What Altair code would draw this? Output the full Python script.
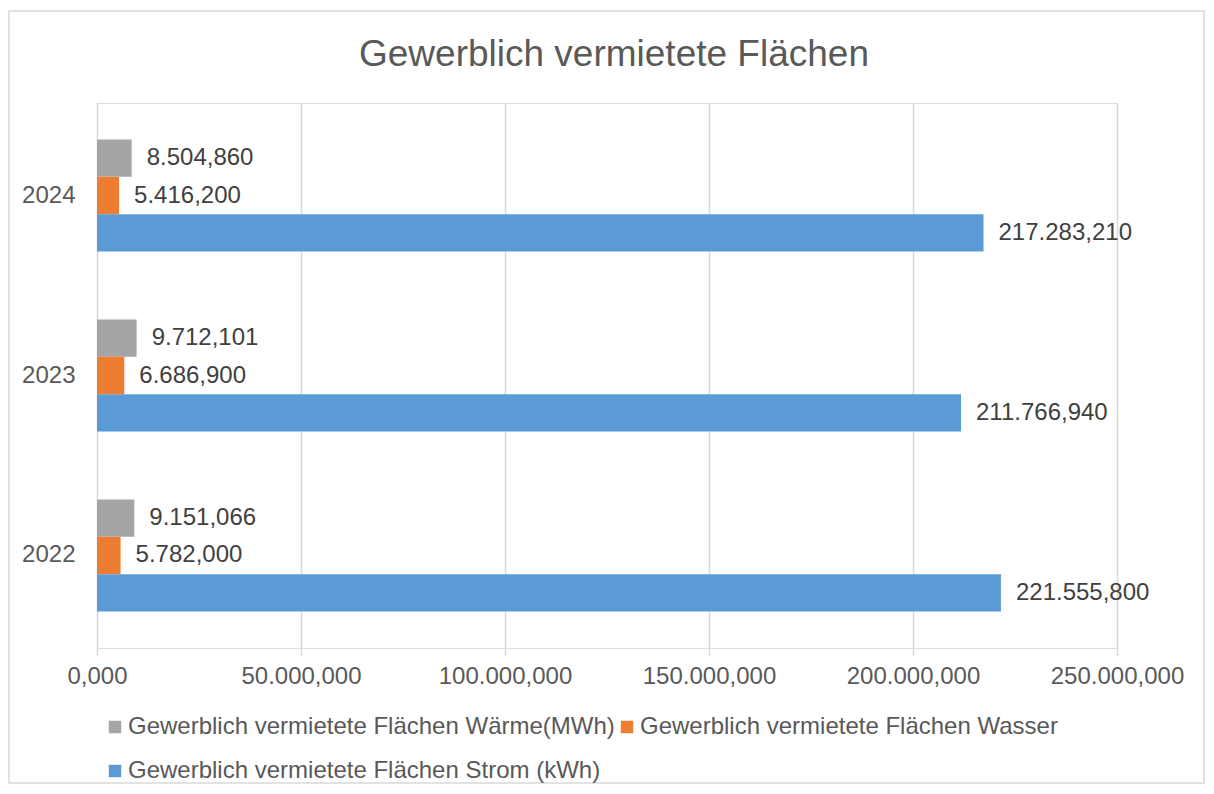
import altair as alt
import pandas as pd

years = ["2024", "2023", "2022"]
series = [
    "Gewerblich vermietete Flächen Wärme(MWh)",
    "Gewerblich vermietete Flächen Wasser",
    "Gewerblich vermietete Flächen Strom (kWh)",
]
waerme = [8504.860, 9712.101, 9151.066]
wasser = [5416.200, 6686.900, 5782.000]
strom = [217283.210, 211766.940, 221555.800]
colors = ["#A5A5A5", "#ED7D31", "#5B9BD5"]
x_ticks = [0, 50000, 100000, 150000, 200000, 250000]
title_text = "Gewerblich vermietete Flächen"

rows = []
for i, yr in enumerate(years):
    for s, vals in zip(series, [waerme, wasser, strom]):
        rows.append({"Jahr": yr, "Serie": s, "Wert": vals[i]})
df = pd.DataFrame(rows)

FONT = "Liberation Sans"
W, H = 1020, 545


def de_fmt(field):
    return ("replace(replace(replace(format(" + field + ", ',.3f'), /,/g, '#'), "
            "/\\./g, ','), /#/g, '.')")


base = alt.Chart(df).encode(
    y=alt.Y(
        "Jahr:N",
        sort=years,
        scale=alt.Scale(paddingInner=0.378, paddingOuter=0.203),
        axis=alt.Axis(
            title=None, ticks=False, domain=False, labelFontSize=24,
            labelColor="#595959", labelPadding=22, labelFont=FONT,
        ),
    ),
    yOffset=alt.YOffset("Serie:N", sort=series,
                        scale=alt.Scale(domain=series, paddingInner=0, paddingOuter=0)),
)

bars = base.mark_bar().encode(
    x=alt.X(
        "Wert:Q",
        scale=alt.Scale(domain=[0, 250000], nice=False),
        axis=alt.Axis(
            values=x_ticks, title=None, domain=False, tickColor="#d9d9d9",
            tickSize=8, gridColor="#d9d9d9", gridWidth=1.5, tickWidth=1.5,
            labelExpr=de_fmt("datum.value"), labelFontSize=24,
            labelColor="#595959", labelPadding=8, labelFont=FONT,
            labelFlush=False, labelOverlap=False,
        ),
    ),
    color=alt.Color(
        "Serie:N",
        sort=series,
        scale=alt.Scale(domain=series, range=colors),
        legend=alt.Legend(
            title=None, orient="none", legendX=6, legendY=612,
            direction="horizontal", columns=2, symbolType="square",
            symbolSize=155, symbolStrokeWidth=0, labelFontSize=24,
            labelColor="#595959", labelFont=FONT, labelOffset=1,
            columnPadding=-3, rowPadding=20, labelLimit=0,
        ),
    ),
)

labels = base.transform_calculate(label=de_fmt("datum.Wert")).mark_text(
    align="left", baseline="middle", dx=15, fontSize=24, color="#404040", font=FONT
).encode(x="Wert:Q", text="label:N")

deco = alt.Chart(pd.DataFrame({"t": [title_text]}))

border = deco.mark_rect(
    fill="transparent", stroke="#d9d9d9", strokeWidth=1.5
).encode(
    x=alt.value(-88), x2=alt.value(W + 87),
    y=alt.value(-92), y2=alt.value(H + 135),
)

title = deco.mark_text(
    align="center", baseline="alphabetic", fontSize=37, color="#595959", font=FONT
).encode(x=alt.value(517), y=alt.value(-37), text="t:N")

chart = alt.layer(border, title, bars, labels).properties(
    width=W,
    height=H,
    autosize=alt.AutoSizeParams(type="none"),
    padding={"left": 89, "top": 95, "right": 88, "bottom": 136},
).configure_view(stroke=None).configure(font=FONT, background="white")

chart.save("out.html", embed_options={"renderer": "svg", "actions": False})
